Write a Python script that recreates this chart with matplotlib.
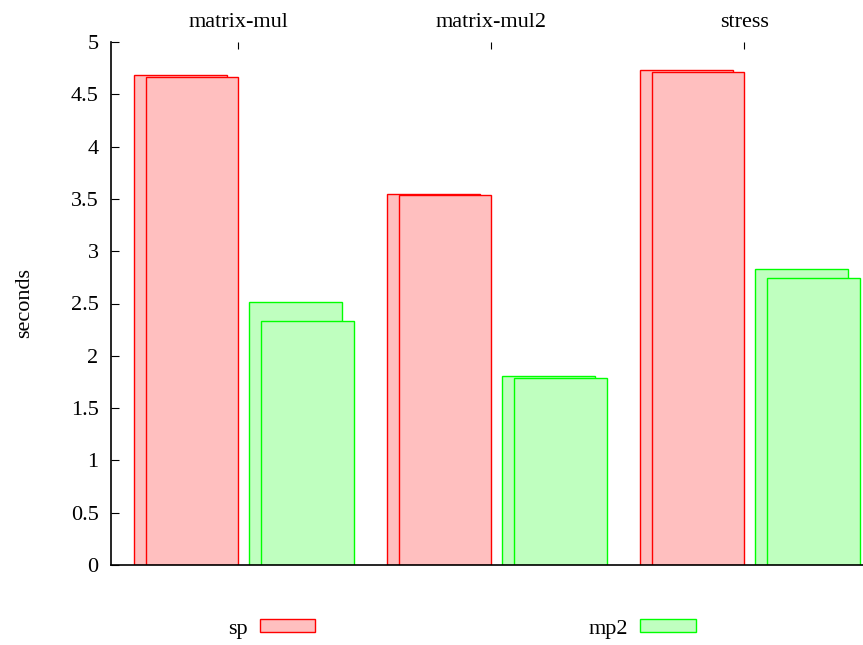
import matplotlib
matplotlib.use("Agg")
import matplotlib.pyplot as plt
from matplotlib.patches import Patch
import numpy as np

categories = ["matrix-mul", "matrix-mul2", "stress"]
sp_run1 = [4.68, 3.55, 4.73]
sp_run2 = [4.67, 3.54, 4.71]
mp2_run1 = [2.51, 1.81, 2.83]
mp2_run2 = [2.33, 1.785, 2.74]
y_ticks = [0, 0.5, 1, 1.5, 2, 2.5, 3, 3.5, 4, 4.5, 5]

plt.rcParams["font.family"] = ["Liberation Serif", "DejaVu Serif"]

red_face, red_edge = "#ffbfbf", "#ff0000"
green_face, green_edge = "#bfffbf", "#00ff00"
fs = 16

fig = plt.figure(figsize=(8.63, 6.45), dpi=100)
ax = fig.add_axes([111 / 863, 80 / 645, 752 / 863, 523 / 645])

x = np.arange(len(categories))
w = 0.366
shift = 0.046
ax.bar(x - 0.228, sp_run1, w, color=red_face, edgecolor=red_edge, linewidth=1)
ax.bar(x - 0.228 + shift, sp_run2, w, color=red_face, edgecolor=red_edge, linewidth=1)
ax.bar(x + 0.228, mp2_run1, w, color=green_face, edgecolor=green_edge, linewidth=1)
ax.bar(x + 0.228 + shift, mp2_run2, w, color=green_face, edgecolor=green_edge, linewidth=1)

ax.set_xlim(-0.502, 2.47)
ax.set_ylim(0, 5)
ax.set_yticks(y_ticks)
ax.set_yticklabels([f"{v:g}" for v in y_ticks])
ax.tick_params(axis="y", direction="in", length=6, pad=9, labelsize=fs)

ax.xaxis.tick_top()
ax.set_xticks(x)
ax.set_xticklabels(categories)
ax.tick_params(axis="x", top=True, bottom=False, direction="in", length=5,
               pad=7, labelsize=fs)

ax.spines["top"].set_visible(False)
ax.spines["right"].set_visible(False)
ax.spines["left"].set_linewidth(1.2)
ax.spines["bottom"].set_linewidth(1.2)

ax.set_ylabel("seconds", fontsize=fs, labelpad=26)

handles = [Patch(facecolor=red_face, edgecolor=red_edge, label="sp"),
           Patch(facecolor=green_face, edgecolor=green_edge, label="mp2")]
fig.legend(handles=handles, loc="center", bbox_to_anchor=(462 / 863, 1 - 629 / 645),
           ncol=2, frameon=False, fontsize=fs, markerfirst=False,
           handlelength=2.5, handleheight=0.5, handletextpad=0.55,
           columnspacing=12.3)

fig.savefig("out.png", dpi=100)
